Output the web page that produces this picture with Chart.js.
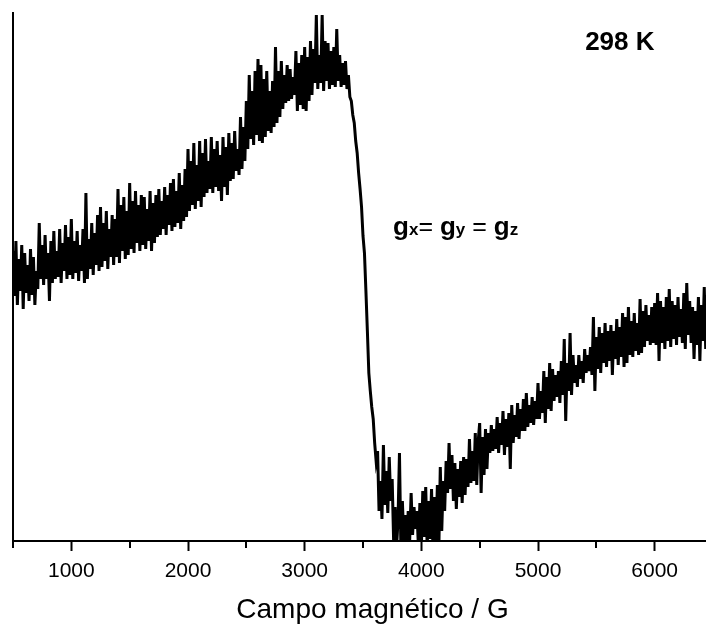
<!DOCTYPE html>
<html>
<head>
<meta charset="utf-8">
<script src="https://cdn.jsdelivr.net/npm/chart.js@4/dist/chart.umd.min.js"></script>
<style>
  html, body { margin: 0; padding: 0; background: #fff; }
  #wrap { width: 706px; height: 626px; }
</style>
</head>
<body>
<div id="wrap"><canvas id="eprChart" width="706" height="626"></canvas></div>
<script>
// field axis (G)
const fieldMin = 500;
const fieldMax = 6440;
const fieldStart = 500;
const fieldStep = 12.5;
const majorTicks = [1000, 2000, 3000, 4000, 5000, 6000];
const minorTicks = [500, 1500, 2500, 3500, 4500, 5500];

// EPR signal (arb. units) every 12.5 G, one row per 125 G
const intensity = [
    290, 245, 300, 236, 282, 250, 296, 232, 288, 248,   // 500
    276, 240, 292, 246, 284, 236, 270, 252, 318, 262,   // 625
    296, 256, 306, 262, 288, 240, 300, 258, 310, 262,   // 750
    290, 264, 312, 258, 298, 270, 316, 262, 304, 266,   // 875
    322, 262, 300, 268, 310, 260, 296, 270, 312, 258,   // 1000
    348, 262, 302, 272, 318, 266, 308, 276, 326, 270,   // 1125
    334, 274, 318, 280, 330, 272, 312, 284, 326, 276,   // 1250
    322, 284, 352, 278, 336, 290, 344, 282, 330, 286,   // 1375
    358, 292, 340, 288, 350, 298, 336, 290, 346, 296,   // 1500
    344, 292, 332, 300, 350, 290, 338, 298, 346, 304,   // 1625
    352, 306, 340, 312, 354, 306, 346, 316, 358, 310,   // 1750
    362, 314, 350, 318, 368, 312, 356, 320, 372, 324,   // 1875
    392, 330, 380, 336, 398, 332, 376, 340, 400, 334,   // 2000
    388, 344, 402, 348, 380, 352, 404, 348, 392, 354,   // 2125
    400, 350, 386, 340, 404, 354, 394, 346, 408, 360,   // 2250
    398, 362, 410, 370, 392, 366, 424, 372, 414, 380,   // 2375
    440, 392, 466, 402, 450, 396, 470, 406, 482, 400,   // 2500
    476, 398, 462, 404, 470, 410, 450, 408, 460, 414,   // 2625
    494, 418, 470, 424, 480, 432, 466, 438, 476, 440,   // 2750
    472, 442, 464, 446, 490, 430, 478, 436, 486, 432,   // 2875
    494, 430, 484, 440, 500, 446, 492, 458, 526, 452,   // 3000
    486, 458, 526, 450, 500, 460, 498, 452, 490, 456,   // 3125
    494, 454, 512, 460, 486, 454, 478, 456, 480, 452,   // 3250
    466, 444, 440, 426, 418, 400, 388, 368, 352, 334,   // 3375
    305, 288, 250, 210, 168, 150, 134, 122, 98, 80,     // 3500
    90, 30, 60, 22, 96, 36, 70, 28, 84, 40,             // 3625
    62, 0, 34, -6, 20, 88, -8, 40, 0, 26,               // 3750
    -6, 30, 0, 48, 6, 34, 12, 30, -6, 38,               // 3875
    -8, 50, 4, 54, -6, 40, 2, 52, -10, 44,              // 4000
    0, 56, -8, 74, 10, 60, 30, 80, 48, 98,              // 4125
    52, 86, 40, 78, 32, 72, 44, 80, 38, 84,             // 4250
    46, 82, 54, 102, 58, 90, 60, 108, 56, 100,          // 4375
    118, 48, 104, 66, 112, 72, 108, 88, 116, 90,        // 4500
    112, 92, 124, 88, 118, 96, 130, 86, 122, 94,        // 4625
    128, 72, 136, 98, 126, 104, 138, 102, 132, 110,     // 4750
    142, 110, 148, 114, 136, 118, 144, 116, 140, 122,   // 4875
    158, 122, 150, 128, 170, 118, 164, 132, 178, 130,   // 5000
    172, 140, 166, 144, 170, 138, 180, 146, 202, 120,   // 5125
    178, 150, 208, 146, 186, 158, 176, 154, 186, 162,   // 5250
    180, 158, 192, 168, 186, 170, 194, 166, 224, 150,   // 5375
    204, 172, 214, 168, 208, 178, 218, 174, 210, 180,   // 5500
    216, 166, 210, 182, 222, 176, 214, 184, 228, 174,   // 5625
    224, 178, 234, 186, 220, 184, 228, 190, 218, 186,   // 5750
    242, 188, 230, 194, 236, 200, 226, 196, 234, 198,   // 5875
    238, 196, 248, 180, 240, 198, 234, 192, 244, 200,   // 6000
    252, 194, 240, 202, 236, 196, 244, 204, 232, 198,   // 6125
    248, 192, 258, 206, 240, 198, 234, 182, 230, 196,   // 6250
    244, 180, 236, 200, 254, 192, 246                   // 6375
];
const signalMin = 0;
const signalMax = 528;

const axisTitle = 'Campo magnético / G';
const tempLabel = '298 K';

const fontFamily = "'Liberation Sans', Arial, Helvetica, sans-serif";

const points = intensity.map((v, i) => ({ x: fieldStart + i * fieldStep, y: v }));

// minor ticks, axis title and the text labels inside the plot
const extrasPlugin = {
    id: 'extras',
    afterDraw(chart) {
        const { ctx, scales: { x, y } } = chart;
        ctx.save();

        ctx.strokeStyle = '#000';
        ctx.lineWidth = 2;
        minorTicks.forEach(v => {
            const px = Math.round(x.getPixelForValue(v));
            ctx.beginPath();
            ctx.moveTo(px, y.bottom);
            ctx.lineTo(px, y.bottom + 7);
            ctx.stroke();
        });

        ctx.fillStyle = '#000';
        ctx.textBaseline = 'alphabetic';

        // axis title (sits a little right of the plot centre, as in the original)
        ctx.textAlign = 'center';
        ctx.font = '28px ' + fontFamily;
        ctx.fillText(axisTitle, (x.left + x.right) / 2 + 13, 618);

        ctx.textAlign = 'left';
        ctx.font = 'bold 26px ' + fontFamily;
        ctx.fillText(tempLabel, x.getPixelForValue(5404), y.getPixelForValue(491));

        // g_x = g_y = g_z
        const parts = [
            ['g', 'bold 26px'],
            ['x', 'bold 17px'],
            ['= ', '25px'],
            ['g', 'bold 26px'],
            ['y', 'bold 17px'],
            [' = ', '25px'],
            ['g', 'bold 26px'],
            ['z', 'bold 17px']
        ];
        let cx = x.getPixelForValue(3758);
        const base = y.getPixelForValue(306);
        parts.forEach(([t, f]) => {
            ctx.font = f + ' ' + fontFamily;
            ctx.fillText(t, cx, base);
            cx += ctx.measureText(t).width;
        });

        ctx.restore();
    }
};

new Chart(document.getElementById('eprChart'), {
    type: 'line',
    data: {
        datasets: [{
            data: points,
            borderColor: '#000',
            borderWidth: 3,
            pointRadius: 0,
            tension: 0,
            fill: false
        }]
    },
    options: {
        responsive: false,
        animation: false,
        devicePixelRatio: 1,
        layout: { padding: { left: 13, top: 13, right: 0, bottom: 0 } },
        plugins: {
            legend: { display: false },
            tooltip: { enabled: false }
        },
        scales: {
            x: {
                type: 'linear',
                min: fieldMin,
                max: fieldMax,
                afterBuildTicks: axis => {
                    axis.ticks = majorTicks.map(v => ({ value: v }));
                },
                afterFit: axis => {
                    axis.height = 85;
                },
                grid: {
                    drawOnChartArea: false,
                    drawTicks: true,
                    tickLength: 10,
                    tickWidth: 2,
                    tickColor: '#000'
                },
                border: { display: true, color: '#000', width: 2 },
                ticks: {
                    color: '#000',
                    padding: 8,
                    maxRotation: 0,
                    callback: v => String(v),
                    font: { family: fontFamily, size: 21 }
                },
                title: { display: false }
            },
            y: {
                type: 'linear',
                min: signalMin,
                max: signalMax,
                grid: { display: false, drawTicks: false },
                border: { display: true, color: '#000', width: 2 },
                ticks: { display: false }
            }
        }
    },
    plugins: [extrasPlugin]
});
</script>
</body>
</html>
